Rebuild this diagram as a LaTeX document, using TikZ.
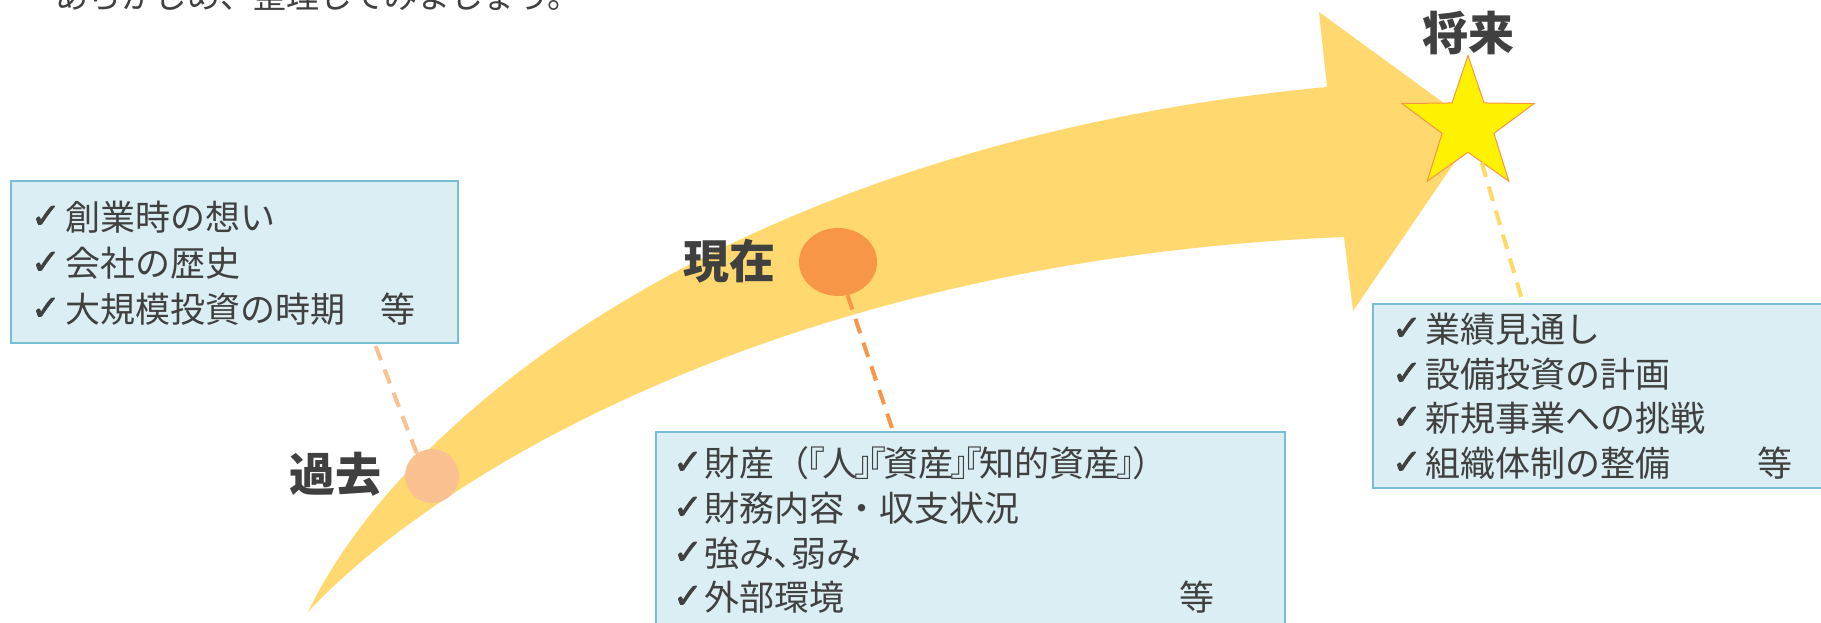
\documentclass[tikz,border=0pt]{standalone}
\usepackage{fontspec}
\setmainfont{Noto Sans CJK JP}
\newfontfamily\chkfont{DejaVu Sans}[FakeBold=2]
\newfontfamily\paltfont{Noto Sans CJK JP}[RawFeature=+palt]
\usetikzlibrary{shapes.geometric}
\definecolor{txt}{HTML}{404040}
\definecolor{arrowc}{HTML}{FFD96F}
\definecolor{boxfill}{HTML}{DAEEF3}
\definecolor{boxline}{HTML}{78BFD5}
\definecolor{pastc}{HTML}{FAC090}
\definecolor{nowc}{HTML}{F79646}
\definecolor{futline}{HTML}{FFD966}
\definecolor{starline}{HTML}{F79646}
\newcommand{\chkitem}[1][32pt]{\makebox[#1][l]{\raisebox{2pt}{\chkfont\fontsize{35}{38}\selectfont ✓}}}
\newcommand{\openbk}{\kern-2pt{\paltfont 『}\kern-2.5pt}
\newcommand{\closebk}{\kern-2.5pt{\paltfont 』}\kern-2pt}
\begin{document}
\begin{tikzpicture}[x=1pt,y=-1pt,
  infobox/.style={draw=boxline, line width=1.5pt, fill=boxfill, anchor=north west, inner sep=0, rectangle},
  itemline/.style={anchor=base west, inner sep=0, text=txt, font=\fontsize{35}{40}\selectfont},
  bigl/.style={inner sep=0, text=txt, font=\fontsize{46}{50}\selectfont\bfseries},
  conn/.style={dash pattern=on 15pt off 10pt, line width=4pt},
]
\clip (0,0) rectangle (1821,622);
\useasboundingbox (0,0) rectangle (1821,622);
\fill[white] (0,0) rectangle (1821,622);

% intro text (cut off at top)
\node[anchor=base west, inner sep=0, text=txt, font=\fontsize{33}{36}\selectfont] (intro) at (55,8) {あらかじめ、整理してみましょう。};

% curved arrow
\fill[arrowc] (308,612) .. controls (410,400) and (760,140) .. (1327,87)
  -- (1319,12) -- (1478,128) -- (1353,311) -- (1344,237)
  .. controls (780,260) and (430,480) .. (308,612) -- cycle;

% markers
\node[circle, fill=pastc, minimum size=54pt, inner sep=0] (pastdot) at (432,476) {};
\node[ellipse, fill=nowc, minimum width=78pt, minimum height=68pt, inner sep=0] (nowdot) at (838,262) {};
\node[star, star points=5, star point ratio=2.55, minimum size=139pt, inner sep=0, fill=yellow, draw=starline, line width=1pt] (futstar) at (1468,125) {};

% labels
\node[bigl] (pastlabel) at (335,474) {過去};
\node[bigl] (nowlabel) at (729,261) {現在};
\node[bigl] (futlabel) at (1468,33) {将来};

% connectors
\coordinate (pastend) at (374,342);
\coordinate (nowend) at (893,431);
\coordinate (futend) at (1523,303);
\draw[conn, draw=pastc] (pastdot.124) -- (pastend);
\draw[conn, draw=nowc] (nowdot.286) -- (nowend);
\draw[conn, draw=futline] (futstar.290) -- (futend);

% boxes
\node[infobox, minimum width=447pt, minimum height=162pt] (pastbox) at (10,180) {};
\node[infobox, minimum width=629pt, minimum height=200pt] (nowbox) at (655,431) {};
\node[infobox, minimum width=460pt, minimum height=184pt] (futbox) at (1372,303) {};

% past items
\node[itemline] (p1) at (31,230) {\chkitem[34pt]創業時の想い};
\node[itemline] (p2) at (31,276) {\chkitem[34pt]会社の歴史};
\node[itemline] (p3) at (31,322) {\chkitem[34pt]大規模投資の時期　等};

% present items
\node[itemline] (n1) at (673,476) {\chkitem[31pt]財産（\openbk 人\closebk\openbk 資産\closebk\openbk 知的資産\closebk）};
\node[itemline] (n2) at (673,521) {\chkitem[31pt]財務内容・収支状況};
\node[itemline] (n3) at (673,566) {\chkitem[31pt]強み{\paltfont 、}弱み};
\node[itemline] (n4) at (673,610) {\chkitem[31pt]外部環境\hspace{335pt}等};

% future items
\node[itemline] (f1) at (1392,342) {\chkitem[33pt]業績見通し};
\node[itemline] (f2) at (1392,387) {\chkitem[33pt]設備投資の計画};
\node[itemline] (f3) at (1392,431) {\chkitem[33pt]新規事業への挑戦};
\node[itemline] (f4) at (1392,476) {\chkitem[33pt]組織体制の整備\hspace{87pt}等};
\end{tikzpicture}
\end{document}
